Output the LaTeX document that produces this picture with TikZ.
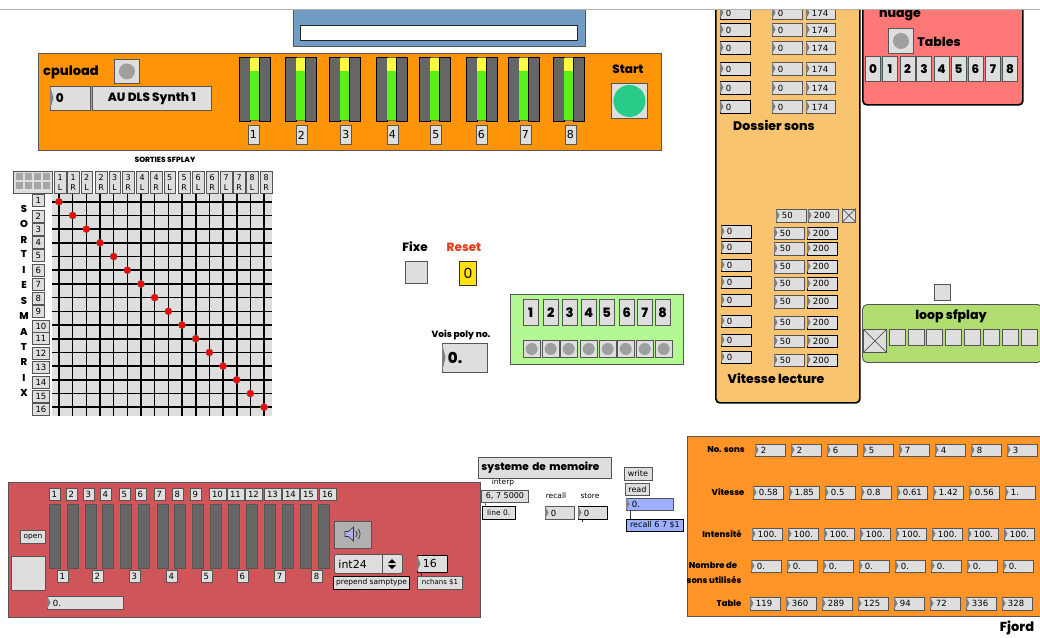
\documentclass[tikz,border=0pt]{standalone}
\usepackage{fontspec}
\setmainfont{DejaVu Sans}
\newfontfamily\disp{Poppins}[BoldFont={Poppins ExtraBold}]
\usetikzlibrary{calc}
\definecolor{wgray}{HTML}{DEDEDE}
\definecolor{edgeg}{HTML}{555555}
\definecolor{bar}{HTML}{666666}
\definecolor{cblue}{RGB}{112,156,198}
\definecolor{corange}{RGB}{255,148,8}
\definecolor{cmeter}{RGB}{88,240,24}
\definecolor{cyel}{RGB}{255,255,64}
\definecolor{cteal}{RGB}{40,204,136}
\definecolor{ctall}{RGB}{248,196,112}
\definecolor{cpink}{RGB}{255,120,120}
\definecolor{cloop}{RGB}{176,220,112}
\definecolor{creset}{RGB}{224,64,32}
\definecolor{cyell}{RGB}{255,224,16}
\definecolor{cgreen}{RGB}{180,248,148}
\definecolor{cred}{RGB}{208,85,88}
\definecolor{cspk}{RGB}{176,176,176}
\definecolor{clilac}{RGB}{176,176,240}
\definecolor{cnum}{RGB}{156,176,255}
\definecolor{corb}{RGB}{255,148,40}
\tikzset{
  wbox/.style={draw=edgeg,fill=wgray,line width=0.9pt,inner sep=0pt,align=center,font=\fontsize{8.5}{9}\selectfont},
  blk/.style={draw=black},
  dtext/.style={inner sep=0pt,font=\disp\bfseries\fontsize{#1}{#1}\selectfont},
  dtext/.default=11,
  gridline/.style={black,line width=1.6pt},
  panel/.style={draw=edgeg,line width=0.9pt,inner sep=0pt},
  rpanel/.style={draw=black,line width=1.7pt,rounded corners=4pt,inner sep=0pt}
}
\newcommand{\wb}[7][]{\node[wbox,anchor=north west,minimum width=#5pt,minimum height=#6pt,#1] (#2) at ({#3},{#4}) {#7};}
\newcommand{\nb}[7][]{\node[wbox,anchor=north west,minimum width=#5pt,minimum height=#6pt,text width=#5pt,align=left,#1] (#2) at ({#3},{#4}) {\hspace*{5.5pt}#7};
  \fill[gray] ({#3},{#4}) -- ({#3+3.5},{#4+#6/2}) -- ({#3},{#4+#6}) -- cycle;}
\newcommand{\btn}[6][4.6pt]{\node[wbox,anchor=north west,minimum width=#5pt,minimum height=#6pt] (#2) at (#3,#4) {};
  \fill[gray!75] (#2.center) circle[radius=#1];}
\newcommand{\xbx}[5]{\node[wbox,anchor=north west,minimum width=#5pt,minimum height=#5pt] (#2) at (#3,#4) {};}
\begin{document}
\begin{tikzpicture}[x=1pt,y=-1pt]
\useasboundingbox (0,0) rectangle (1040,637);
\fill[white] (0,0) rectangle (1040,637);

% blue panel
\node[panel,fill=cblue,anchor=north west,minimum width=292pt,minimum height=38pt] (bluep) at (293,8) {};
\node[anchor=north west,draw=black!85,fill=white,line width=1.1pt,inner sep=0pt,minimum width=277pt,minimum height=15pt] (blueb) at (300,24.5) {};

% orange top
\node[panel,fill=corange,anchor=north west,minimum width=623pt,minimum height=97pt] (topp) at (38,53) {};
\node[dtext=13,anchor=center] (cpul) at (71,72) {cpuload};
\btn[8pt]{cpub}{114}{59}{25}{24}
\nb{cpun}{50}{86}{40}{24}{\disp\bfseries\fontsize{12}{12}\selectfont 0}
\wb[font=\disp\bfseries\fontsize{12}{12}\selectfont]{audls}{92}{86}{119}{24}{AU DLS Synth 1}
\foreach \x/\lx [count=\i] in {239/253,285/301,329/345.5,376/392,419/435.5,466/481,508/525,553/570}{
  \fill[bar] (\x,57) rectangle ({\x+31},121);
  \draw[black,line width=0.8pt] (\x,57) rectangle ({\x+11},121) ({\x+20},57) rectangle ({\x+31},121);
  \fill[cyel] ({\x+11},58) rectangle ({\x+20},71);
  \fill[cmeter] ({\x+11},71) rectangle ({\x+20},120);
  \wb[font=\fontsize{11}{11}\selectfont]{meterlab\i}{\lx-5.5}{125}{11}{19}{\i}
}
\node[dtext=12] (startt) at (628,69) {Start};
\node[wbox,anchor=north west,minimum width=36pt,minimum height=35pt] (startb) at (611,83) {};
\fill[cteal] (startb.center) circle[radius=16pt];

% matrix
\node[dtext=7.5] (sortt) at (165,160) {SORTIES SFPLAY};
\node[wbox,anchor=north west,minimum width=39pt,minimum height=22pt] (gridb) at (13,170.5) {};
\foreach \a in {0,1,2,3}\foreach \b in {0,1}{\fill[gray!70] ({16+\a*9},{173+\b*9}) rectangle ({23+\a*9},{180+\b*9});}
\foreach \x/\t [count=\i] in {54/1\\L,67/1\\R,80.5/2\\L,95/2\\R,108.5/3\\L,122/3\\R,136/4\\L,150/4\\R,163.5/5\\L,178/5\\R,192/6\\L,206/6\\R,220/7\\L,233/7\\R,246/8\\L,260/8\\R}{
  \wb[font=\fontsize{8}{9.5}\selectfont]{ct\i}{\x}{171}{11.5}{22}{\t}
}
\node[anchor=north west,fill=wgray,inner sep=0pt,minimum width=220pt,minimum height=222pt] (gridbg) at (52,194) {};
\foreach \i in {0,...,15}{
  \draw[gridline] ({59+\i*13.67},194) -- ({59+\i*13.67},416);
  \draw[gridline] (52,{201.7+\i*13.7}) -- (272,{201.7+\i*13.7});
}
\foreach \i in {0,...,15}{
  \filldraw[fill=red,draw=black!60,line width=0.4pt] ({59+\i*13.67},{201.7+\i*13.7}) circle[radius=3.6pt];
}
\foreach \y/\w [count=\i] in {200/12,216/12,229/12,242/12,255/12,270/12,284/12,298/12,311/12,326/17,338/17,353/17,367/17,382/17,396/17,409/17}{
  \wb{rw\i}{32}{\y-6}{\w}{12}{\i}
}
\foreach \y/\t [count=\i] in {209/S,224/O,240/R,254/T,270/I,285/E,301/S,316/M,332/A,347/T,362/R,378/I,393/X}{
  \node[dtext=10] (ml\i) at (24,\y) {\t};
}

% tall panel
\node[rpanel,fill=ctall,anchor=north west,minimum width=144pt,minimum height=402pt] (tall) at (715,0) {};
\foreach \y [count=\i] in {6,23,41,62,81,100}{
  \nb[blk]{da\i}{720}{\y}{30}{13}{0}
  \nb{db\i}{772}{\y}{30}{13}{0}
  \nb{dc\i}{806}{\y}{29}{13}{174}
}
\node[dtext=12.5] (doss) at (774,125) {Dossier sons};
\nb{vh1}{776}{209}{30}{12.5}{50}
\nb{vh2}{808}{209}{30}{12.5}{200}
\xbx{}{vhx}{842}{208.5}{13}
\draw[edgeg,line width=0.7pt] (vhx.north west) -- (vhx.south east) (vhx.north east) -- (vhx.south west);
\foreach \y/\z [count=\i] in {225/226.5,240.5/242,258.5/260,275.5/277,293.5/295,314.5/316,333.5/334.5,350.5/353.5}{
  \nb[blk]{va\i}{721}{\y}{30}{12.5}{0}
  \nb{vb\i}{774}{\z}{30}{12.5}{50}
  \nb[blk]{vc\i}{807}{\z}{30}{12.5}{200}
}
\node[dtext=12.5] (vitl) at (776,378) {Vitesse lecture};

% nuage
\node[rpanel,fill=cpink,anchor=north west,minimum width=160pt,minimum height=104pt] (nua) at (862,0) {};
\node[dtext=12.5] (nuat) at (900,16) {nuage};
\btn[8pt]{nuab}{888}{28}{25}{25}
\node[dtext=12.5] (tabt) at (939,42) {Tables};
\foreach \x/\t [count=\i] in {865/0,882/1,899.5/2,916/3,933.5/4,950.5/5,967.5/6,985/7,1002/8}{
  \wb[font=\disp\bfseries\fontsize{12}{12}\selectfont]{tb\i}{\x}{56}{15}{25}{\t}
}

% loop sfplay
\xbx{}{looptop}{934}{284}{16}
\node[draw=edgeg,line width=0.9pt,rounded corners=5pt,fill=cloop,anchor=north west,minimum width=180pt,minimum height=58pt,inner sep=0pt] (loopp) at (862,304) {};
\node[dtext=12.5] (loopt) at (951,316) {loop sfplay};
\xbx{}{loopx}{863}{329}{23}
\draw[edgeg,line width=0.7pt] (loopx.north west) -- (loopx.south east) (loopx.north east) -- (loopx.south west);
\foreach \x [count=\i] in {889,907.5,926,945,964,983,1002,1020.5}{
  \xbx{}{lp\i}{\x}{329}{16}
}

% fixe / reset
\node[dtext=12] (fixet) at (415,247) {Fixe};
\node[dtext=12,text=creset] (resett) at (464,247) {Reset};
\xbx{}{fixeb}{405}{261}{22}
\wb[fill=cyell,font=\disp\fontsize{14}{14}\selectfont,draw=black!80]{resetb}{459}{261}{17}{24}{0}

% voices
\node[panel,fill=cgreen,anchor=north west,minimum width=173pt,minimum height=70pt] (vgreen) at (510,294) {};
\foreach \x/\bx [count=\i] in {523/523,543/542,562/560,581/580,599/599,619/617,637/636,655/655}{
  \wb[font=\disp\bfseries\fontsize{13}{13}\selectfont]{vn\i}{\x}{299}{14.5}{26}{\i}
  \btn[6pt]{vk\i}{\bx}{340}{16.5}{17}
}
\node[dtext=9] (voist) at (461,335) {Vois poly no.};
\nb{voisn}{442}{343}{45}{29}{\disp\bfseries\fontsize{15}{15}\selectfont 0.}

% red panel
\node[panel,fill=cred,anchor=north west,minimum width=472pt,minimum height=135pt] (redp) at (8,482) {};
\foreach \x/\c [count=\i] in {49/54,66.7/71,84.7/88,102.3/105,120.3/124,138.3/140,156.7/159,174.3/177,192.3/195,210.3/217,228.3/235,246.3/253,264.3/272,282.3/290,300.3/308,318.3/327}{
  \pgfmathsetmacro\ww{\i>9?17:11}
  \wb{rt\i}{\c-\ww/2}{488}{\ww}{12}{\i}
  \node[draw=edgeg,fill=bar,line width=0.9pt,anchor=north west,minimum width=11pt,minimum height=64pt,inner sep=0pt] (rbar\i) at (\x,504) {};
}
\foreach \c [count=\i] in {62,97,134,171,206,242,279,316}{
  \wb{rb\i}{\c-5.5}{570}{11}{12}{\i}
}
\wb[font=\fontsize{7.5}{8}\selectfont]{openb}{20}{530}{25}{13}{open}
\xbx{}{bigsq}{11}{556}{34}
\nb{posn}{47}{596}{76}{13}{0.}
\node[wbox,fill=cspk,anchor=north west,minimum width=37pt,minimum height=27pt] (spk) at (334,521) {};
\filldraw[fill=clilac,draw=black!80,line width=0.6pt] (345,531.5) -- (348.5,531.5) -- (353.5,527) -- (353.5,541) -- (348.5,536.5) -- (345,536.5) -- cycle;
\draw[black!80,line width=0.7pt] (356,531) .. controls (357.5,533) and (357.5,535) .. (356,537);
\draw[black!80,line width=0.7pt] (358.5,529) .. controls (360.5,532) and (360.5,536) .. (358.5,539);
\node[wbox,anchor=north west,minimum width=68pt,minimum height=19pt,rounded corners=2pt,text width=68pt,align=left,font=\fontsize{11}{11}\selectfont] (menu) at (334,554) {\hspace*{4pt}int24};
\draw[edgeg,line width=0.6pt] (382,554) -- (382,573);
\fill[black] (388,563) -- (392,559) -- (396,563) -- cycle (388,565) -- (392,569) -- (396,565) -- cycle;
\nb[blk,font=\fontsize{11}{11}\selectfont]{n16}{417}{555}{30}{17}{16}
\wb[blk,font=\fontsize{7.5}{8}\selectfont,line width=1.2pt]{prep}{333}{575.5}{76}{13.5}{prepend samptype}
\wb[font=\fontsize{7}{7}\selectfont]{nch}{417}{575.5}{45}{13.5}{nchans \$1}
\draw[black!80,line width=0.7pt] ([xshift=4pt]n16.south west) -- ([xshift=4pt]nch.north west);

% memoire
\wb[text width=133pt,align=left,font=\disp\bfseries\fontsize{10.5}{11}\selectfont,draw=edgeg]{memo}{478}{457}{133}{21}{\hspace*{3pt}systeme de memoire}
\node[inner sep=0pt,font=\fontsize{7.5}{8}\selectfont] (interpt) at (503,482) {interp};
\wb[font=\fontsize{8}{8}\selectfont]{six}{481}{490}{47}{12}{6, 7 5000}
\wb[blk,line width=1.3pt,font=\fontsize{7.5}{8}\selectfont]{linez}{481.5}{505.5}{33}{13}{line 0.}
\draw[black!80,line width=0.7pt] ([xshift=4pt]six.south west) -- ([xshift=4pt]linez.north west);
\node[inner sep=0pt,font=\fontsize{7.5}{8}\selectfont] (recallt) at (556,496) {recall};
\node[inner sep=0pt,font=\fontsize{7.5}{8}\selectfont] (storet) at (590,496) {store};
\nb{recn}{545}{506}{29}{13}{0}
\nb[blk]{ston}{578}{506}{29}{13}{0}
\coordinate (stick) at (582,522);
\draw[black!80,line width=0.7pt] ([xshift=4pt]ston.south west) -- (stick);
\wb[font=\fontsize{8}{8}\selectfont]{writeb}{623.5}{466.5}{28}{13}{write}
\wb[font=\fontsize{8}{8}\selectfont]{readb}{625}{483}{24}{11.5}{read}
\nb[fill=cnum]{bluen}{626}{498}{47}{12}{0.}
\wb[blk,fill=cnum,font=\fontsize{8}{8}\selectfont]{recallm}{626}{519}{57}{11.5}{recall 6 7 \$1}
\draw[black!80,line width=0.7pt] ([xshift=4.5pt]bluen.south west) -- ([xshift=4.5pt]recallm.north west);

% orange bottom
\node[panel,fill=corb,anchor=north west,minimum width=354pt,minimum height=180pt] (botp) at (687,436) {};
\foreach \t [count=\i] in {2,2,6,5,7,4,8,3}{ \nb{so\i}{755+36*(\i-1)}{443.5}{29.5}{12.5}{\t} }
\foreach \t [count=\i] in {0.58,1.85,0.5,0.8,0.61,1.42,0.56,1.}{ \nb{vi\i}{753+36*(\i-1)}{486}{29.5}{12.5}{\t} }
\foreach \t [count=\i] in {100.,100.,100.,100.,100.,100.,100.,100.}{ \nb{in\i}{752+36*(\i-1)}{527.5}{29.5}{12.5}{\t} }
\foreach \t [count=\i] in {0.,0.,0.,0.,0.,0.,0.,0.}{ \nb{nu\i}{751+36*(\i-1)}{559.5}{29.5}{12.5}{\t} }
\foreach \t [count=\i] in {119,360,289,125,94,72,336,328}{ \nb{ta\i}{750+36*(\i-1)}{597}{29.5}{12.5}{\t} }
\node[dtext=8.5] (lsons) at (726,450) {No. sons};
\node[dtext=8.5] (lvit) at (728,492) {Vitesse};
\node[dtext=8.5] (lint) at (722,534) {Intensité};
\node[dtext=8.5] (lnom) at (713,565) {Nombre de};
\node[dtext=8.5] (lutil) at (714,580) {sons utilisés};
\node[dtext=8.5] (ltab) at (729,603) {Table};
\node[dtext=13] (fjord) at (1017,628) {Fjord};

% top strip
\fill[white] (0,0) rectangle (1040,8.5);
\draw[gray!60,line width=1pt] (0,9) -- (1040,9);
\end{tikzpicture}
\end{document}
